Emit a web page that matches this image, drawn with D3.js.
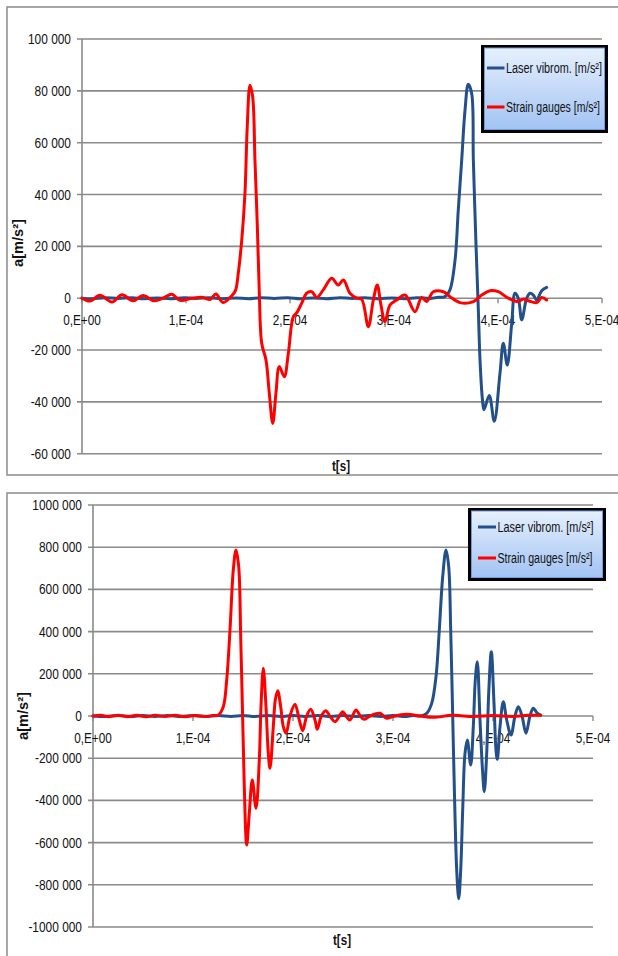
<!DOCTYPE html>
<html>
<head>
<meta charset="utf-8">
<script src="https://cdn.jsdelivr.net/npm/d3@7"></script>
<style>
  html, body { margin: 0; padding: 0; background: #ffffff; }
  svg { display: block; }
  .tick-label { font-family: "Liberation Sans", Arial, sans-serif; font-size: 14px; fill: #111; }
  .legend-label { font-family: "Liberation Sans", Arial, sans-serif; font-size: 14px; fill: #111; }
  .axis-title { font-family: "Liberation Sans", Arial, sans-serif; font-size: 15px; font-weight: bold; fill: #111; }
</style>
</head>
<body>
<svg id="chart" width="618" height="956"></svg>
<script>
// ---- Series names ----
const seriesNames = ["Laser vibrom. [m/s\u00B2]", "Strain gauges [m/s\u00B2]"];

// ---- X axis (time, in microseconds) ----
const xTickValues = [0, 100, 200, 300, 400, 500];
const xTickLabels = ["0,E+00", "1,E-04", "2,E-04", "3,E-04", "4,E-04", "5,E-04"];

// ---- Upper chart: Y ticks ----
const topYTicks = [100000, 80000, 60000, 40000, 20000, 0, -20000, -40000, -60000];
const topYLabels = ["100 000", "80 000", "60 000", "40 000", "20 000", "0", "-20 000", "-40 000", "-60 000"];

// ---- Upper chart: laser vibrometer ----
const topLaserT = [0, 10, 22, 35, 48, 60, 72, 85, 98, 110, 123, 135, 148, 160, 172, 185, 198, 210, 222, 235, 248, 260, 272, 285, 298, 310, 322, 335, 341, 349, 353.8, 358.7, 361.8, 365.1, 368.3, 371.4, 374.7, 376.3, 378.8, 381.1, 382.7, 384.9, 386.5, 391.6, 396.4, 401.9, 405.1, 408.9, 413.2, 416.3, 419.5, 422.8, 427.6, 430.8, 434, 437.2, 442, 446.8];
const topLaserA = [0, -200, 200, -100, 200, -200, 100, -200, 200, -100, 200, -200, 100, -200, 200, -100, 200, -200, 100, -200, 200, -100, 200, -200, 100, -200, 200, -100, 300, 600, 3200, 14700, 34000, 53300, 72600, 82500, 79000, 53300, 21200, -4600, -23800, -38500, -43000, -37500, -47500, -29000, -17400, -25800, -9700, 1900, 0, -8400, 0, 1900, 1200, -700, 2900, 4200];

// ---- Upper chart: strain gauges ----
const topStrainT = [0, 7.7, 17.3, 28.8, 38.5, 49, 58.7, 69.2, 77.9, 86.5, 94.2, 105.8, 116.3, 123.1, 128.8, 135.6, 144.2, 147.6, 150.3, 153.6, 156.7, 158.9, 161.5, 164.1, 166.3, 168.6, 170.5, 172.8, 176.9, 180.1, 183.4, 186.5, 189.7, 194.5, 198.4, 203.2, 206.4, 211.3, 216, 220.9, 225.7, 232, 240.1, 246.4, 251.3, 257.7, 264.1, 268.9, 275.3, 280.1, 283.9, 287.2, 291.3, 296.2, 302.6, 310.6, 320.2, 326.6, 331.4, 337.8, 347.4, 353.8, 363.5, 376.3, 384.3, 392.3, 400.3, 409.9, 419.5, 424.3, 429.1, 437.2, 442, 446.8];
const topStrainA = [0, -1100, 1100, -1500, 1300, -1000, 1000, -1000, 0, 1500, -800, 0, 300, -500, 1600, -1700, 1000, 3000, 9700, 22400, 40500, 66200, 82200, 77700, 53300, 27600, 1900, -17400, -23800, -36700, -48300, -36600, -26400, -30300, -21300, -7100, -5700, -1900, 1900, 2500, 300, 3200, 7700, 5100, 7000, 1900, 0, -400, -11000, -700, 5100, -2000, -9100, -2600, -700, 1200, -5200, 300, -1300, 2500, 2500, 600, -1700, -1300, 1200, 2900, 2500, 0, -1300, -300, -1000, -1700, 300, -700];

// ---- Lower chart: Y ticks ----
const botYTicks = [1000000, 800000, 600000, 400000, 200000, 0, -200000, -400000, -600000, -800000, -1000000];
const botYLabels = ["1000 000", "800 000", "600 000", "400 000", "200 000", "0", "-200 000", "-400 000", "-600 000", "-800 000", "-1000 000"];

// ---- Lower chart: laser vibrometer ----
const botLaserT = [0, 12, 25, 38, 50, 62, 75, 88, 100, 112, 125, 138, 150, 162, 175, 188, 200, 212, 225, 238, 250, 262, 275, 288, 300, 312, 320, 327, 333.7, 338.7, 343, 346.3, 349.7, 353, 355.7, 357.7, 359.7, 361.3, 363.7, 365.7, 367.7, 369.7, 372, 374.3, 377.7, 380.3, 382.3, 384.3, 387, 389.7, 391.3, 393.7, 395.7, 398.3, 401, 403, 404.3, 407, 410.3, 413.7, 418, 422, 425.3, 429, 433, 437, 440.3, 444, 447.7];
const botLaserA = [0, -2500, 2000, -2500, 2500, -2000, 2500, -2500, 2000, -2500, 2500, -2000, 2500, -2500, 2000, -2500, 2500, -2000, 2500, -2500, 2000, -2500, 2500, -2000, 2500, -2500, 2000, 0, 12600, 60000, 186000, 407600, 660000, 786700, 707600, 407600, 0, -335000, -729800, -866000, -729800, -445500, -177000, -113700, -232200, -50700, 170600, 257300, -19000, -271500, -358700, -177000, 107600, 304700, 60000, -161100, -205500, -50700, 67800, -19000, -90000, 0, 44000, 0, -82000, 0, 36500, 15000, 4000];

// ---- Lower chart: strain gauges ----
const botStrainT = [0, 8, 16, 25, 34, 44, 53, 62, 72, 82, 92, 102, 112, 120, 125.3, 130.3, 133.7, 137, 140.3, 143, 145.7, 147.7, 149.7, 151.3, 153.7, 156.3, 159.3, 163, 166.3, 168, 170.3, 173, 175.3, 177, 180.3, 182.3, 184.7, 187.7, 190.3, 193, 197, 202, 206.3, 209.7, 213.7, 217.7, 222, 224.3, 228.3, 232.7, 237.7, 242, 247, 249.7, 253.7, 257, 263, 267, 271, 277, 287, 293.7, 300, 313.7, 327, 340.3, 360, 380, 400, 420, 435, 447.7];
const botStrainA = [0, 3000, -3000, 4000, -3000, 3000, -4000, 3000, -2000, 3000, -3000, 2000, -2000, 2000, 4700, 44000, 170600, 407600, 691900, 786700, 707600, 375800, -19000, -335000, -611300, -461200, -303300, -437500, -208500, 44000, 226000, 44000, -177000, -248000, -50700, 75800, 120000, 44000, -50700, -82000, 0, 55300, -19000, -69500, 0, 31600, -19000, -63200, 0, 25300, -6000, -26900, 4000, 20500, -5000, -19000, 28400, 2000, -15800, 0, 12600, -11000, -2000, 7900, 0, -6300, 3000, -2000, 2000, -2000, 3000, 4000];

const laserColor = "#23508a";
const strainColor = "#ff0000";
const gridColor = "#8a8a8a";

const svg = d3.select("#chart");

// Squeeze text horizontally to a narrow face
function condense(sel, factor) {
  sel.each(function () {
    const w = this.getComputedTextLength();
    d3.select(this).attr("textLength", w * factor).attr("lengthAdjust", "spacingAndGlyphs");
  });
}
function fitWidth(sel, width) {
  sel.attr("textLength", width).attr("lengthAdjust", "spacingAndGlyphs");
}

// Legend background gradient
const defs = svg.append("defs");
const grad = defs.append("linearGradient").attr("id", "legendFill")
  .attr("x1", 0).attr("y1", 0).attr("x2", 0).attr("y2", 1);
grad.append("stop").attr("offset", "0%").attr("stop-color", "#e6f0fd");
grad.append("stop").attr("offset", "100%").attr("stop-color", "#a2c3f3");

function drawPanel(cfg) {
  const g = svg.append("g");

  // outer chart frame
  g.append("rect")
    .attr("x", cfg.frame[0]).attr("y", cfg.frame[1])
    .attr("width", cfg.frame[2]).attr("height", cfg.frame[3])
    .attr("fill", "#ffffff").attr("stroke", gridColor).attr("stroke-width", 1.5);

  const x = d3.scaleLinear().domain([0, 500]).range([cfg.plot.left, cfg.plot.right]);
  const y = d3.scaleLinear().domain(cfg.yDomain).range([cfg.plot.bottom, cfg.plot.top]);

  // horizontal gridlines with left tick marks
  g.append("g").selectAll("line").data(cfg.yTicks).join("line")
    .attr("x1", cfg.plot.left - 5).attr("x2", cfg.plot.right)
    .attr("y1", d => y(d)).attr("y2", d => y(d))
    .attr("stroke", gridColor).attr("stroke-width", 1.6);

  // vertical axis line
  g.append("line")
    .attr("x1", x(0)).attr("x2", x(0))
    .attr("y1", y(cfg.yDomain[1])).attr("y2", y(cfg.yDomain[0]))
    .attr("stroke", gridColor).attr("stroke-width", 1.6);

  // x tick marks on the zero line
  g.append("g").selectAll("line").data(xTickValues).join("line")
    .attr("x1", d => x(d)).attr("x2", d => x(d))
    .attr("y1", y(0)).attr("y2", y(0) + 5)
    .attr("stroke", gridColor).attr("stroke-width", 1.4);

  // y tick labels
  g.append("g").selectAll("text").data(cfg.yTicks).join("text")
    .attr("class", "tick-label")
    .attr("x", cfg.plot.left - 11)
    .attr("y", d => y(d))
    .attr("dy", "0.36em")
    .attr("text-anchor", "end")
    .text((d, i) => cfg.yLabels[i])
    .call(condense, 0.85);

  // x tick labels
  g.append("g").selectAll("text").data(xTickValues).join("text")
    .attr("class", "tick-label")
    .attr("x", d => x(d))
    .attr("y", y(0) + 22)
    .attr("dy", "0.36em")
    .attr("text-anchor", "middle")
    .text((d, i) => xTickLabels[i])
    .call(condense, 0.84);

  // axis titles
  g.append("text").attr("class", "axis-title")
    .attr("transform", `translate(${cfg.yTitle[0]},${cfg.yTitle[1]}) rotate(-90)`)
    .attr("text-anchor", "middle").attr("dy", "0.36em")
    .text("a[m/s\u00B2]")
    .call(fitWidth, 48);
  g.append("text").attr("class", "axis-title")
    .attr("x", cfg.xTitle[0]).attr("y", cfg.xTitle[1])
    .attr("text-anchor", "middle").attr("dy", "0.36em")
    .text("t[s]")
    .call(fitWidth, 18);

  // data lines
  const line = d3.line()
    .x(d => x(d[0])).y(d => y(d[1]))
    .curve(d3.curveCatmullRom.alpha(0.5));

  const laser = cfg.laserT.map((t, i) => [t, cfg.laserA[i]]);
  const strain = cfg.strainT.map((t, i) => [t, cfg.strainA[i]]);

  cfg.order.forEach(k => {
    const data = k === "laser" ? laser : strain;
    g.append("path").datum(data)
      .attr("d", line)
      .attr("fill", "none")
      .attr("stroke", k === "laser" ? laserColor : strainColor)
      .attr("stroke-width", 3)
      .attr("stroke-linejoin", "round")
      .attr("stroke-linecap", "round");
  });

  // legend
  const L = cfg.legend;
  g.append("rect")
    .attr("x", L.x).attr("y", L.y).attr("width", L.w).attr("height", L.h)
    .attr("fill", "#000000");
  g.append("rect")
    .attr("x", L.x + 3.5).attr("y", L.y + 3).attr("width", L.w - 7).attr("height", L.h - 6.5)
    .attr("fill", "url(#legendFill)").attr("stroke", "#6d9ddd").attr("stroke-width", 1);

  const entries = [
    { name: seriesNames[0], color: laserColor, y: L.rows[0], w: L.textW[0] },
    { name: seriesNames[1], color: strainColor, y: L.rows[1], w: L.textW[1] }
  ];
  entries.forEach(e => {
    g.append("line")
      .attr("x1", L.lineX[0]).attr("x2", L.lineX[1])
      .attr("y1", e.y).attr("y2", e.y)
      .attr("stroke", e.color).attr("stroke-width", 3);
    g.append("text").attr("class", "legend-label")
      .attr("x", L.lineX[1] + 1.5).attr("y", e.y).attr("dy", "0.36em")
      .text(e.name)
      .call(fitWidth, e.w);
  });
}

drawPanel({
  frame: [7, 7, 620, 468],
  plot: { left: 82, right: 602, top: 39, bottom: 453.7 },
  yDomain: [-60000, 100000],
  yTicks: topYTicks, yLabels: topYLabels,
  yTitle: [18, 243], xTitle: [341, 466],
  laserT: topLaserT, laserA: topLaserA,
  strainT: topStrainT, strainA: topStrainA,
  order: ["laser", "strain"],
  legend: { x: 481, y: 45, w: 127, h: 88, rows: [68, 107], lineX: [487, 504.5], textW: [96, 94] }
});

drawPanel({
  frame: [7, 493, 620, 470],
  plot: { left: 93, right: 593, top: 505, bottom: 927 },
  yDomain: [-1000000, 1000000],
  yTicks: botYTicks, yLabels: botYLabels,
  yTitle: [23, 716], xTitle: [342, 940],
  laserT: botLaserT, laserA: botLaserA,
  strainT: botStrainT, strainA: botStrainA,
  order: ["laser", "strain"],
  legend: { x: 468, y: 508, w: 138, h: 73, rows: [527, 558], lineX: [478, 496], textW: [96, 95] }
});
</script>
</body>
</html>
